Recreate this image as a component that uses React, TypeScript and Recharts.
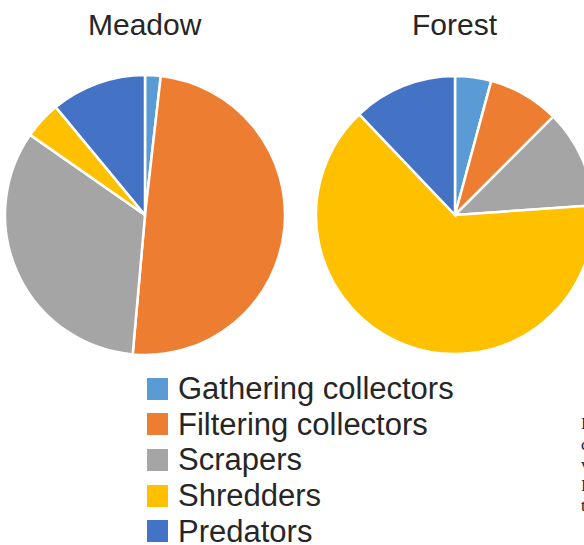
import { PieChart, Pie, Cell, Legend } from 'recharts'

// functional feeding groups, clockwise from 12 o'clock
const groups = ['Gathering collectors', 'Filtering collectors', 'Scrapers', 'Shredders', 'Predators']
const colors = ['#5B9BD5', '#ED7D31', '#A5A5A5', '#FFC000', '#4472C4']

// share of each group, %
const meadow = [1.8, 49.6, 33.3, 4.3, 11.0]
const forest = [4.2, 8.3, 11.4, 64.0, 12.1]

// right-hand column of body text, only its first letters are in view
const sideText = ['I', 'c', 'v', 'I', 't']

const font = '"Liberation Sans", Arial, sans-serif'

function toRows(values: number[]) {
  return groups.map((name, i) => ({ name, value: values[i] }))
}

function GroupLegend() {
  return (
    <div style={{ fontFamily: font, fontSize: 31, color: '#262626' }}>
      {groups.map((g, i) => (
        <div key={g} style={{ display: 'flex', alignItems: 'center', height: 35.6 }}>
          <span
            style={{
              width: 21,
              height: 22,
              background: colors[i],
              marginRight: 10,
              display: 'inline-block',
              flex: 'none',
            }}
          />
          <span style={{ whiteSpace: 'nowrap', lineHeight: '35px' }}>{g}</span>
        </div>
      ))}
    </div>
  )
}

export default function App() {
  const titleStyle = {
    position: 'absolute' as const,
    top: 8,
    fontFamily: font,
    fontSize: 30,
    color: '#262626',
    lineHeight: '34px',
  }

  return (
    <div style={{ position: 'absolute', left: 0, top: 0, width: 584, height: 545, overflow: 'hidden', background: '#fff' }}>
      <div style={{ ...titleStyle, left: 88 }}>Meadow</div>
      <div style={{ ...titleStyle, left: 412 }}>Forest</div>

      <PieChart width={620} height={545} margin={{ top: 0, right: 0, bottom: 0, left: 0 }}>
        <Pie
          data={toRows(meadow)}
          dataKey="value"
          nameKey="name"
          cx={145}
          cy={215}
          outerRadius={140}
          startAngle={90}
          endAngle={-270}
          stroke="#fff"
          strokeWidth={2.5}
          isAnimationActive={false}
        >
          {meadow.map((_, i) => (
            <Cell key={`m-${i}`} fill={colors[i]} />
          ))}
        </Pie>
        <Pie
          data={toRows(forest)}
          dataKey="value"
          nameKey="name"
          cx={455}
          cy={215}
          outerRadius={139}
          startAngle={90}
          endAngle={-270}
          stroke="#fff"
          strokeWidth={2.5}
          isAnimationActive={false}
        >
          {forest.map((_, i) => (
            <Cell key={`f-${i}`} fill={colors[i]} />
          ))}
        </Pie>
        <Legend
          layout="vertical"
          content={() => <GroupLegend />}
          wrapperStyle={{ left: 147, top: 371, bottom: 'auto', width: 340 }}
        />
      </PieChart>

      <div
        style={{
          position: 'absolute',
          left: 581,
          top: 414,
          fontFamily: '"Liberation Serif", "Times New Roman", serif',
          fontSize: 17,
          lineHeight: '20.5px',
          color: '#222',
        }}
      >
        {sideText.map((t, i) => (
          <div key={i}>{t}</div>
        ))}
      </div>
    </div>
  )
}
